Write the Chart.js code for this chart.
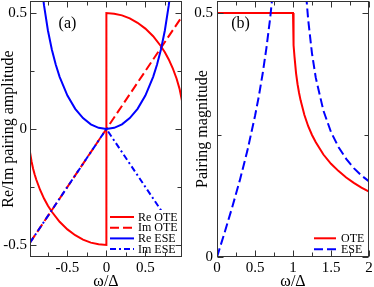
<!DOCTYPE html>
<html><head><meta charset="utf-8">
<script src="https://cdn.jsdelivr.net/npm/chart.js@4"></script>
<style>
html,body{margin:0;padding:0;background:#fff;width:374px;height:287px;overflow:hidden}
canvas{position:absolute;top:0}
#ca{left:0}
#cb{left:187px}
</style></head><body>
<canvas id="ca" width="187" height="287"></canvas>
<canvas id="cb" width="187" height="287"></canvas>
<script>
// ---------- Panel (a) data ----------
const reOteW = [-0.98,-0.96,-0.94,-0.92,-0.9,-0.85,-0.8,-0.75,-0.7,-0.6,-0.5,-0.4,-0.3,-0.2,-0.1,0,0,0.1,0.2,0.3,0.4,0.5,0.6,0.7,0.75,0.8,0.85,0.9,0.94,0.97];
const reOteV = [-0.100,-0.140,-0.171,-0.196,-0.218,-0.263,-0.300,-0.331,-0.357,-0.400,-0.433,-0.458,-0.477,-0.490,-0.497,-0.500,0.500,0.497,0.490,0.477,0.458,0.433,0.400,0.357,0.331,0.300,0.263,0.218,0.171,0.122];
const imOteW = [-0.98, 0.97];
const imOteV = [-0.49, 0.485];
const reEseW = [-0.85,-0.82,-0.8,-0.75,-0.7,-0.65,-0.6,-0.5,-0.4,-0.3,-0.2,-0.1,0,0.1,0.2,0.3,0.4,0.5,0.6,0.65,0.7,0.75,0.8,0.82,0.85];
const reEseV = [0.686,0.587,0.533,0.425,0.343,0.278,0.225,0.144,0.087,0.047,0.020,0.005,0,0.005,0.020,0.047,0.087,0.144,0.225,0.278,0.343,0.425,0.533,0.587,0.686];
const imEseW = [-0.98, 0, 0.97];
const imEseV = [-0.49, 0, -0.485];
const xTicksA = [-0.5, 0, 0.5];
const xLabelsA = ['-0.5', '0', '0.5'];
const xMinorA = [-0.75, -0.25, 0.25, 0.75];
const yTicksA = [-0.5, 0, 0.5];
const yLabelsA = ['-0.5', '0', '0.5'];
const yMinorA = [-0.25, 0.25];

// ---------- Panel (b) data ----------
const oteW = [0,1,1.005,1.01,1.02,1.04,1.06,1.08,1.1,1.15,1.2,1.25,1.3,1.4,1.5,1.6,1.7,1.8,1.9,2];
const oteV = [0.5,0.5,0.452,0.434,0.410,0.377,0.354,0.336,0.321,0.291,0.268,0.250,0.235,0.210,0.191,0.176,0.163,0.152,0.142,0.134];
const eseLowW = [0,0.1,0.2,0.3,0.4,0.5,0.55,0.6,0.65,0.7,0.75];
const eseLowV = [0,0.050,0.102,0.157,0.218,0.289,0.329,0.375,0.428,0.490,0.567];
const eseHighW = [1.15,1.17,1.2,1.25,1.3,1.4,1.5,1.6,1.7,1.8,1.9,2];
const eseHighV = [0.589,0.542,0.486,0.417,0.367,0.300,0.256,0.225,0.201,0.182,0.167,0.155];
const xTicksB = [0, 0.5, 1, 1.5, 2];
const xLabelsB = ['0', '0.5', '1', '1.5', '2'];
const xMinorB = [0.25, 0.75, 1.25, 1.75];
const yTicksB = [0, 0.5];
const yLabelsB = ['0', '0.5'];
const yMinorB = [0.25];

const FONT = "'Liberation Serif', 'Times New Roman', serif";
const RED = '#ff0000', BLUE = '#0000ff';
const pts = (w, v) => w.map((x, i) => ({x: x, y: v[i]}));

const decor = {
  id: 'decor',
  afterDraw(chart, args, o) {
    const {ctx, chartArea: a} = chart;
    const xs = chart.scales.x, ys = chart.scales.y;
    ctx.save();
    // legend (white box, lines, labels)
    const lg = o.legend;
    ctx.fillStyle = '#ffffff';
    ctx.fillRect(a.left + lg.box[0], a.top + lg.box[1], lg.box[2], lg.box[3]);
    lg.items.forEach((di, k) => {
      const ds = chart.data.datasets[di];
      const y = a.top + lg.y0 + k * lg.dy;
      ctx.beginPath();
      ctx.setLineDash(ds.borderDash || []);
      ctx.strokeStyle = ds.borderColor;
      ctx.lineWidth = 2;
      ctx.moveTo(a.left + lg.x0, y);
      ctx.lineTo(a.left + lg.x1, y);
      ctx.stroke();
      ctx.setLineDash([]);
      ctx.fillStyle = '#000';
      ctx.font = "12px " + FONT;
      ctx.textAlign = 'left';
      ctx.textBaseline = 'middle';
      ctx.fillText(ds.label, a.left + lg.tx, y + 0.5);
    });
    // panel label
    ctx.fillStyle = '#000';
    ctx.font = "16px " + FONT;
    ctx.textAlign = 'center';
    ctx.textBaseline = 'middle';
    ctx.fillText(o.panel.text, a.left + o.panel.x, a.top + o.panel.y);
    // frame
    ctx.strokeStyle = '#333';
    ctx.lineWidth = 1;
    const L = Math.round(a.left) + 0.5, R = Math.round(a.right) - 0.5;
    const T = Math.round(a.top) + 0.5, B = Math.round(a.bottom) - 0.5;
    ctx.strokeRect(L, T, R - L, B - T);
    // inward ticks on all sides
    ctx.beginPath();
    const tx = (vals, len) => vals.forEach(v => {
      const p = Math.round(xs.getPixelForValue(v)) + 0.5;
      ctx.moveTo(p, B); ctx.lineTo(p, B - len);
      ctx.moveTo(p, T); ctx.lineTo(p, T + len);
    });
    const ty = (vals, len) => vals.forEach(v => {
      const p = Math.round(ys.getPixelForValue(v)) + 0.5;
      ctx.moveTo(L, p); ctx.lineTo(L + len, p);
      ctx.moveTo(R, p); ctx.lineTo(R - len, p);
    });
    tx(o.xMajor, 6); tx(o.xMinor, 4);
    ty(o.yMajor, 6); ty(o.yMinor, 4);
    ctx.stroke();
    ctx.restore();
  }
};

function xScale(min, max, ticks, labels) {
  return {
    type: 'linear', min: min, max: max,
    afterFit: s => { s.height = 30; s.paddingLeft = 0; s.paddingRight = 0; },
    afterBuildTicks: s => { s.ticks = ticks.map(v => ({value: v})); },
    grid: {display: false, drawTicks: false},
    border: {display: false},
    ticks: {autoSkip: false, maxRotation: 0, padding: 2, color: '#000',
            font: {family: FONT, size: 15}, callback: (v, i) => labels[i]},
    title: {display: true, text: 'ω/Δ', color: '#000',
            font: {family: FONT, size: 16}, padding: {top: 0, bottom: -4}}
  };
}
function yScale(min, max, ticks, labels, title, tpad, lpad) {
  return {
    type: 'linear', min: min, max: max,
    afterFit: s => { s.width = 30; s.paddingTop = 0; s.paddingBottom = 0; },
    afterBuildTicks: s => { s.ticks = ticks.map(v => ({value: v})); },
    grid: {display: false, drawTicks: false},
    border: {display: false},
    ticks: {autoSkip: false, padding: lpad, color: '#000',
            font: {family: FONT, size: 15}, callback: (v, i) => labels[i]},
    title: {display: true, text: title, color: '#000',
            font: {family: FONT, size: 16}, padding: {top: tpad, bottom: 0}}
  };
}
const base = (d) => Object.assign({showLine: true, pointRadius: 0, borderWidth: 2,
  fill: false, tension: 0, clip: 0}, d);

new Chart(document.getElementById('ca'), {
  type: 'scatter',
  data: {datasets: [
    base({label: 'Re OTE', data: pts(reOteW, reOteV), borderColor: RED, order: 4}),
    base({label: 'Im OTE', data: pts(imOteW, imOteV), borderColor: RED, borderDash: [9, 4], order: 3}),
    base({label: 'Re ESE', data: pts(reEseW, reEseV), borderColor: BLUE, order: 2}),
    base({label: 'Im ESE', data: pts(imEseW, imEseV), borderColor: BLUE, borderDash: [6, 3, 2, 3], order: 1})
  ]},
  options: {
    responsive: false, animation: false, events: [],
    layout: {padding: {top: 1, right: 5, left: 0, bottom: 0}},
    scales: {
      x: xScale(-0.98, 0.97, xTicksA, xLabelsA),
      y: yScale(-0.552, 0.552, yTicksA, yLabelsA, 'Re/Im pairing amplitude', -1, 3)
    },
    plugins: {
      legend: {display: false}, tooltip: {enabled: false},
      decor: {
        legend: {items: [0, 1, 2, 3], box: [78, 209, 73, 46], x0: 80, x1: 104, tx: 108, y0: 216, dy: 10.7},
        panel: {text: '(a)', x: 37.5, y: 23},
        xMajor: xTicksA, xMinor: xMinorA, yMajor: yTicksA, yMinor: yMinorA
      }
    }
  },
  plugins: [decor]
});

new Chart(document.getElementById('cb'), {
  type: 'scatter',
  data: {datasets: [
    base({label: 'OTE', data: pts(oteW, oteV), borderColor: RED, order: 3}),
    base({label: 'ESE', data: pts(eseLowW, eseLowV), borderColor: BLUE, borderDash: [9, 4], order: 2}),
    base({label: 'ESE', data: pts(eseHighW, eseHighV), borderColor: BLUE, borderDash: [9, 4], order: 1})
  ]},
  options: {
    responsive: false, animation: false, events: [],
    layout: {padding: {top: 1, right: 5, left: 0, bottom: 0}},
    scales: {
      x: xScale(0, 2, xTicksB, xLabelsB),
      y: yScale(0, 0.5246, yTicksB, yLabelsB, 'Pairing magnitude', 6, 4)
    },
    plugins: {
      legend: {display: false}, tooltip: {enabled: false},
      decor: {
        legend: {items: [0, 1], box: [92, 230, 59, 25], x0: 97, x1: 119, tx: 124, y0: 237.3, dy: 11},
        panel: {text: '(b)', x: 23.5, y: 23},
        xMajor: xTicksB, xMinor: xMinorB, yMajor: yTicksB, yMinor: yMinorB
      }
    }
  },
  plugins: [decor]
});
</script>
</body></html>
